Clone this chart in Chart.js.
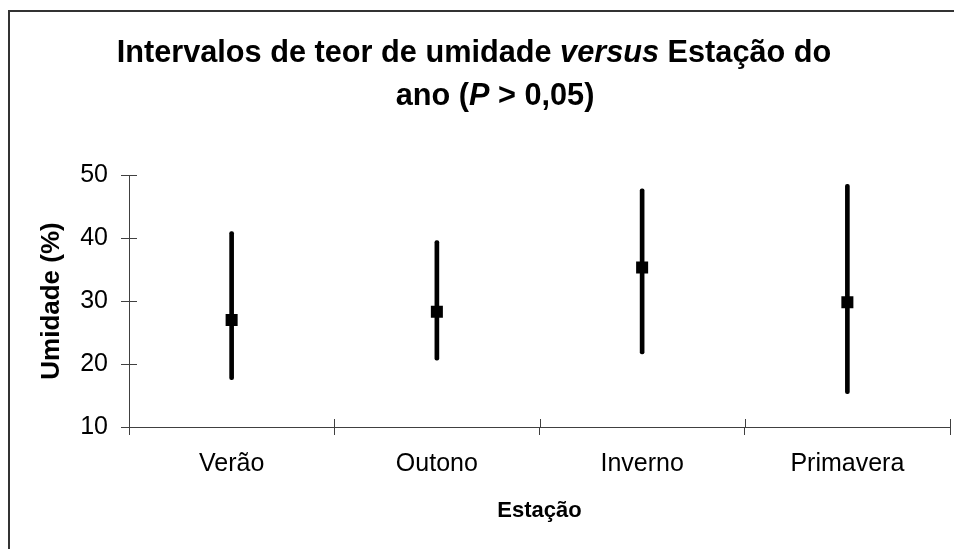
<!DOCTYPE html>
<html>
<head>
<meta charset="utf-8">
<script src="https://cdn.jsdelivr.net/npm/chart.js@4/dist/chart.umd.min.js"></script>
<style>
  body { margin: 0; background: #fff; }
  #wrap { width: 954px; height: 549px; }
</style>
</head>
<body>
<div id="wrap"><canvas id="grafico" width="954" height="549"></canvas></div>
<script>
// dados
const estacoes = ["Verão", "Outono", "Inverno", "Primavera"];
const medias = [27.0, 28.3, 35.3, 29.8];
const minimos = [17.5, 20.6, 21.6, 15.3];
const maximos = [41.0, 39.6, 47.8, 48.5];
const yMin = 10;
const yMax = 50;
const yPasso = 10;

const FONTE = '"Liberation Sans", Arial, sans-serif';
const COR_EIXO = "#404040";

// titulo com partes em italico
const tituloLinhas = [
  { y: 62, cx: 474, partes: [["Intervalos de teor de umidade ", false], ["versus", true], [" Estação do", false]] },
  { y: 105, cx: 495, partes: [["ano (", false], ["P", true], [" > 0,05)", false]] },
];

const molduraPlugin = {
  id: "moldura",
  beforeDraw(chart) {
    const ctx = chart.ctx;
    ctx.save();
    ctx.strokeStyle = "#333";
    ctx.lineWidth = 2;
    ctx.beginPath();
    ctx.moveTo(9, 549);
    ctx.lineTo(9, 11);
    ctx.lineTo(954, 11);
    ctx.stroke();

    // titulo
    ctx.fillStyle = "#000";
    ctx.textBaseline = "alphabetic";
    ctx.textAlign = "left";
    tituloLinhas.forEach(function (linha) {
      let total = 0;
      linha.partes.forEach(function (p) {
        ctx.font = (p[1] ? "italic " : "") + "bold 30.7px " + FONTE;
        total += ctx.measureText(p[0]).width;
      });
      let x = linha.cx - total / 2;
      linha.partes.forEach(function (p) {
        ctx.font = (p[1] ? "italic " : "") + "bold 30.7px " + FONTE;
        ctx.fillText(p[0], x, linha.y);
        x += ctx.measureText(p[0]).width;
      });
    });
    ctx.restore();
  },
  afterDraw(chart) {
    // metade interna das marcas de escala (marcas cruzadas)
    const ctx = chart.ctx;
    const xs = chart.scales.x;
    const ys = chart.scales.y;
    const area = chart.chartArea;
    ctx.save();
    ctx.strokeStyle = COR_EIXO;
    ctx.lineWidth = 1;
    ctx.beginPath();
    ys.ticks.forEach(function (t, i) {
      const py = Math.round(ys.getPixelForTick(i)) + 0.5;
      ctx.moveTo(area.left, py);
      ctx.lineTo(area.left + 8, py);
    });
    for (let i = 0; i <= estacoes.length; i++) {
      const px = Math.round(xs.getPixelForValue(i - 0.5)) + 0.5;
      ctx.moveTo(px, area.bottom);
      ctx.lineTo(px, area.bottom - 8);
    }
    ctx.stroke();
    ctx.restore();
  },
};

new Chart(document.getElementById("grafico"), {
  type: "bar",
  data: {
    labels: estacoes,
    datasets: [
      {
        type: "line",
        label: "Média",
        data: medias,
        showLine: false,
        pointStyle: "rect",
        pointRadius: 8.5,
        pointBackgroundColor: "#000",
        pointBorderColor: "#000",
        pointBorderWidth: 0,
        order: 0,
      },
      {
        type: "bar",
        label: "Intervalo",
        data: estacoes.map(function (_, i) { return [minimos[i], maximos[i]]; }),
        backgroundColor: "#000",
        barThickness: 4,
        borderRadius: 2,
        borderSkipped: false,
        order: 1,
      },
    ],
  },
  plugins: [molduraPlugin],
  options: {
    responsive: false,
    animation: false,
    layout: { autoPadding: false, padding: { top: 175, right: 4, left: 0, bottom: 0 } },
    plugins: {
      legend: { display: false },
      tooltip: { enabled: false },
    },
    scales: {
      x: {
        offset: true,
        grid: { offset: true, drawOnChartArea: false, tickLength: 8, color: COR_EIXO },
        border: { display: true, color: COR_EIXO, width: 1 },
        ticks: { color: "#000", padding: 14, font: { family: FONTE, size: 25, lineHeight: 1.2 } },
        title: {
          display: true,
          text: "Estação",
          color: "#000",
          font: { family: FONTE, size: 22, weight: "bold", lineHeight: 1.2 },
          padding: { top: 0, bottom: 25 },
        },
        afterFit(scale) { scale.height = 122; },
      },
      y: {
        min: yMin,
        max: yMax,
        grid: { drawOnChartArea: false, tickLength: 8, color: COR_EIXO },
        border: { display: true, color: COR_EIXO, width: 1 },
        ticks: { stepSize: yPasso, color: "#000", padding: 13, font: { family: FONTE, size: 25 } },
        title: {
          display: true,
          text: "Umidade (%)",
          color: "#000",
          font: { family: FONTE, size: 26, weight: "bold", lineHeight: 1.2 },
          padding: { top: 36.4, bottom: 0 },
        },
        afterFit(scale) { scale.width = 129; },
      },
    },
  },
});
</script>
</body>
</html>
